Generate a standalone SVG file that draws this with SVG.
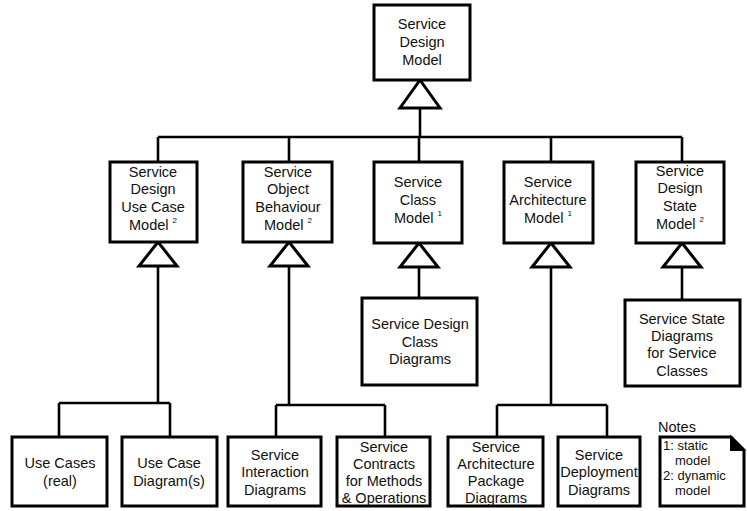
<svg xmlns="http://www.w3.org/2000/svg" width="747" height="511" viewBox="0 0 747 511">
<style>
.box{fill:#fff;stroke:#000;stroke-width:3}
.tri{fill:#fff;stroke:#000;stroke-width:3;stroke-linejoin:miter}
.ln{fill:none;stroke:#000;stroke-width:2.6}
text{font-family:"Liberation Sans",Arial,sans-serif;font-size:14.5px;fill:#111;text-anchor:middle}
.sup{font-size:8px}
.l{text-anchor:start}
.n{font-size:13px}
</style>
<rect width="747" height="511" fill="#fff"/>
<g id="connectors">
<path class="ln" d="M420 108V137M158 137H682M158 137V162M289 137V162M419 137V162M551 137V162M682 137V162"/>
<path class="ln" d="M158 266V403M59 403H170M59 403V437M170 403V437"/>
<path class="ln" d="M289 266V405M276 405H385M276 405V437M385 405V437"/>
<path class="ln" d="M551 266V405M497 405H607M497 405V437M607 405V437"/>
<path class="ln" d="M419 266V298M682 266V300"/>
<polygon class="tri" points="420,80 400,108 440,108"/>
<polygon class="tri" points="158,242 139,266 177,266"/>
<polygon class="tri" points="289,242 270,266 308,266"/>
<polygon class="tri" points="419,243 400,267 438,267"/>
<polygon class="tri" points="551,243 532,267 570,267"/>
<polygon class="tri" points="682,243 663,267 701,267"/>
</g>
<g id="n-top"><rect class="box" x="374" y="5" width="96" height="75"/>
<text x="422" y="29">Service</text><text x="422" y="47">Design</text><text x="422" y="65">Model</text></g>
<g id="n-usecase"><rect class="box" x="110" y="162" width="87" height="80"/>
<text x="153" y="177">Service</text><text x="153" y="194">Design</text><text x="153" y="212">Use Case</text><text x="153" y="230">Model <tspan class="sup" dy="-7">2</tspan></text></g>
<g id="n-behaviour"><rect class="box" x="243" y="162" width="89" height="80"/>
<text x="288" y="177">Service</text><text x="288" y="194">Object</text><text x="288" y="212">Behaviour</text><text x="288" y="230">Model <tspan class="sup" dy="-7">2</tspan></text></g>
<g id="n-class"><rect class="box" x="374" y="162" width="88" height="81"/>
<text x="418" y="187">Service</text><text x="418" y="205">Class</text><text x="418" y="223">Model <tspan class="sup" dy="-7">1</tspan></text></g>
<g id="n-arch"><rect class="box" x="504" y="162" width="89" height="81"/>
<text x="548" y="187">Service</text><text x="548" y="205">Architecture</text><text x="548" y="223">Model <tspan class="sup" dy="-7">1</tspan></text></g>
<g id="n-state"><rect class="box" x="636" y="162" width="88" height="81"/>
<text x="680" y="176">Service</text><text x="680" y="193">Design</text><text x="680" y="211">State</text><text x="680" y="229">Model <tspan class="sup" dy="-7">2</tspan></text></g>
<g id="n-classdiag"><rect class="box" x="362" y="298" width="115" height="87"/>
<text x="420" y="329">Service Design</text><text x="420" y="347">Class</text><text x="420" y="364">Diagrams</text></g>
<g id="n-statediag"><rect class="box" x="625" y="300" width="115" height="86"/>
<text x="682" y="324">Service State</text><text x="682" y="341">Diagrams</text><text x="682" y="358">for Service</text><text x="682" y="376">Classes</text></g>
<g id="n-usecases"><rect class="box" x="12" y="437" width="95" height="69"/>
<text x="60" y="468">Use Cases</text><text x="60" y="486">(real)</text></g>
<g id="n-ucdiag"><rect class="box" x="122" y="437" width="95" height="69"/>
<text x="169" y="468">Use Case</text><text x="169" y="486">Diagram(s)</text></g>
<g id="n-interaction"><rect class="box" x="228" y="437" width="93" height="69"/>
<text x="275" y="460">Service</text><text x="275" y="477">Interaction</text><text x="275" y="495">Diagrams</text></g>
<g id="n-contracts"><rect class="box" x="337" y="437" width="93" height="69"/>
<text x="384" y="452">Service</text><text x="384" y="469">Contracts</text><text x="384" y="486">for Methods</text><text x="384" y="503">&amp; Operations</text></g>
<g id="n-package"><rect class="box" x="448" y="437" width="95" height="69"/>
<text x="496" y="452">Service</text><text x="496" y="469">Architecture</text><text x="496" y="486">Package</text><text x="496" y="503">Diagrams</text></g>
<g id="n-deploy"><rect class="box" x="558" y="437" width="82" height="69"/>
<text x="599" y="460">Service</text><text x="599" y="477">Deployment</text><text x="599" y="495">Diagrams</text></g>
<g id="n-notes">
<text class="l" x="658" y="432">Notes</text>
<path class="box" d="M660 437H731L744 450V506H660Z"/>
<polygon points="731,437 731,450 744,450" fill="#000" stroke="#000" stroke-width="2"/>
<text class="l n" x="663" y="450">1: static</text>
<text class="l n" x="675" y="465">model</text>
<text class="l n" x="663" y="480">2: dynamic</text>
<text class="l n" x="675" y="495">model</text>
</g>
</svg>
